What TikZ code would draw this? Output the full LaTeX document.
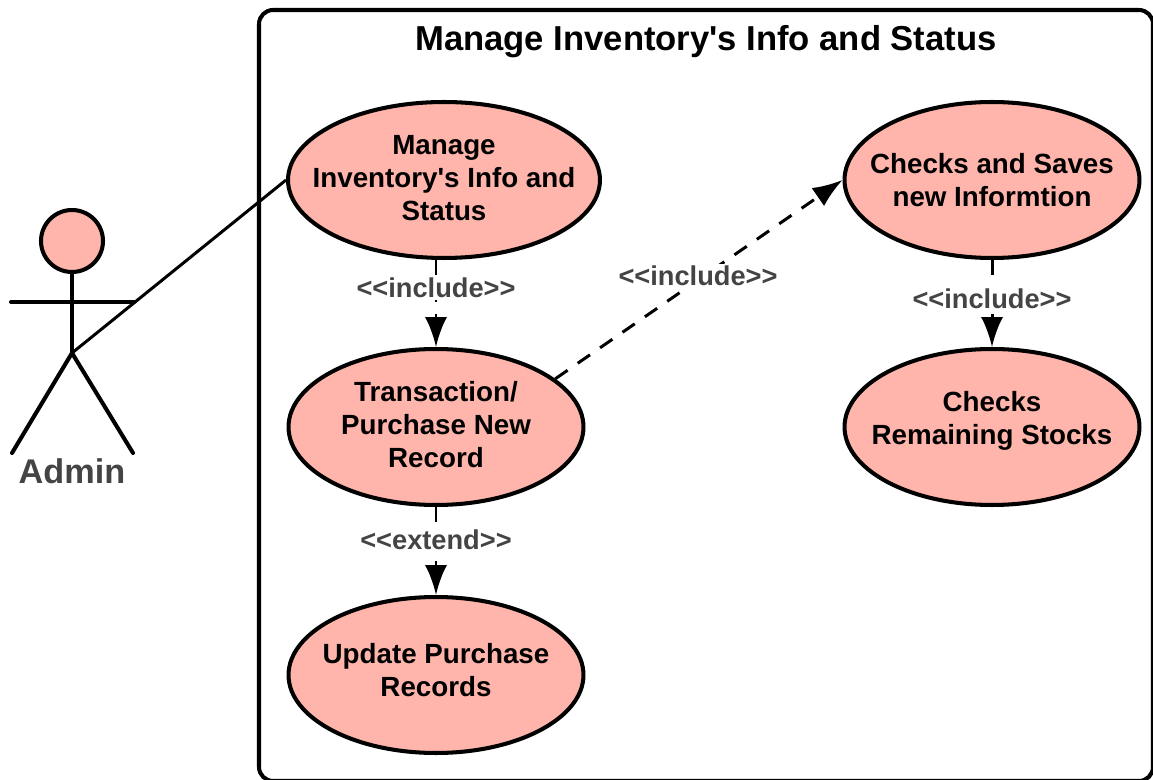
\documentclass[tikz,border=0pt]{standalone}
\usepackage{fontspec}
\setmainfont{Liberation Sans}
\usetikzlibrary{arrows.meta,shapes.geometric}
\definecolor{usecasefill}{RGB}{255,181,171}
\definecolor{labelgray}{RGB}{68,68,68}
\newcommand{\casetext}[2]{\raisebox{#1}[\height][\depth]{\begin{tabular}{@{}c@{}}#2\end{tabular}}}
\tikzset{
  usecase/.style={draw=black,line width=2.3pt,fill=usecasefill,ellipse,inner xsep=-2cm,inner ysep=-.8cm,
    minimum width=5.9cm,minimum height=3.12cm,align=center,font=\fontsize{15.8}{18.8}\selectfont\bfseries},
  steplabel/.style={fill=white,inner sep=1pt,text=labelgray,font=\fontsize{15.5}{20}\selectfont\bfseries},
  dep/.style={line width=1.7pt,dash pattern=on 8.5pt off 7pt,-{Latex[length=17pt,width=12.5pt]}},
  limb/.style={line width=2.3pt,line cap=round}
}
\begin{document}
\begin{tikzpicture}[x=0.02cm,y=-0.02cm]
\useasboundingbox (0,0) rectangle (1153,780);
\draw[line width=2.3pt,rounded corners=8pt] (259,10) rectangle (1153,781); % the system box
\node[font=\fontsize{19.7}{24}\selectfont\bfseries] (title) at (706,42) {Manage Inventory\textquotesingle s Info and Status};
% the use cases
\node[usecase,minimum width=6.24cm] (manage) at (444,180) {\casetext{-.6pt}{Manage\\Inventory\textquotesingle s Info and\\Status}};
\node[usecase] (transaction) at (436,427) {\casetext{-.6pt}{Transaction/\\Purchase New\\Record}};
\node[usecase] (update) at (436,675) {\casetext{1.1pt}{Update Purchase\\Records}};
\node[usecase] (checks) at (992,180) {\casetext{-1.7pt}{Checks and Saves\\new Informtion}};
\node[usecase] (remaining) at (992,427) {\casetext{3.4pt}{Checks\\Remaining Stocks}};
% the actor
\node[circle,draw=black,line width=2.3pt,fill=usecasefill,minimum size=1.24cm,inner sep=0pt] (head) at (72,241) {};
\coordinate (hip) at (72,353);
\coordinate (armleft) at (11,302);
\coordinate (armright) at (134,302);
\coordinate (footleft) at (12,453);
\coordinate (footright) at (133,453);
\node[text=labelgray,font=\fontsize{19.5}{24}\selectfont\bfseries] (admin) at (72,471) {Admin};
\draw[limb] (head.south) -- (hip);
\draw[limb] (armleft) -- (armright);
\draw[limb] (footleft) -- (hip) -- (footright);
\draw[line width=1.7pt] (manage.west) -- (hip);
% the dependencies
\draw[dep] (transaction.north |- manage.south) -- (transaction.north);
\draw[dep] (transaction.south) -- (update.north);
\draw[dep] (checks.south) -- (remaining.north);
\draw[dep] (transaction.22) -- (checks.west);
\node[steplabel] (includea) at (436,288) {<{}<include>{}>};
\node[steplabel] (extend) at (436,540) {<{}<extend>{}>};
\node[steplabel] (includeb) at (698,276) {<{}<include>{}>};
\node[steplabel] (includec) at (992,299) {<{}<include>{}>};
\end{tikzpicture}
\end{document}
